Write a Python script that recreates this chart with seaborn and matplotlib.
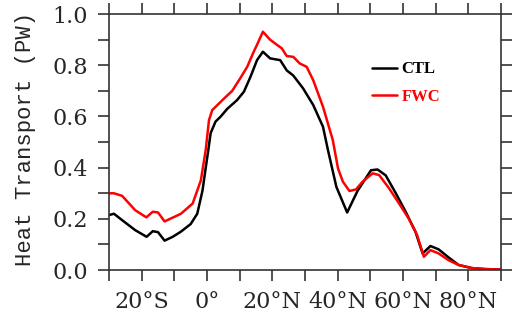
import matplotlib
matplotlib.use("Agg")
import matplotlib.pyplot as plt
import seaborn as sns
import pandas as pd
import numpy as np

lat_ctl = [-30, -28.5, -26, -22, -18.5, -16.6, -15, -13, -10.5, -8, -5, -3, -1.4, -0.4, 0.4, 1.1,
           2.6, 4.2, 6.2, 9.2, 11.3, 13.3, 15.3, 17.1, 19.3, 22.4, 24.4, 26.4, 29.4, 32.5, 35.5,
           37, 39.6, 42.9, 46.1, 50.2, 52.2, 54.7, 57.8, 60.8, 63.8, 66, 68.4, 70.9, 73.9, 77,
           81, 85, 90]
ctl = [0.215, 0.22, 0.195, 0.156, 0.13, 0.152, 0.148, 0.115, 0.13, 0.15, 0.18, 0.22, 0.31, 0.40,
       0.47, 0.535, 0.58, 0.60, 0.63, 0.664, 0.697, 0.755, 0.82, 0.853, 0.827, 0.82, 0.78, 0.76,
       0.71, 0.645, 0.56, 0.47, 0.325, 0.225, 0.31, 0.39, 0.393, 0.37, 0.30, 0.228, 0.15, 0.065,
       0.094, 0.081, 0.05, 0.02, 0.008, 0.004, 0.002]

lat_fwc = [-30, -28.5, -26, -22, -18.6, -16.6, -15, -13, -8, -4.4, -1.9, -0.9, -0.4, 0.6, 1.6,
           3.2, 5.2, 7.7, 10.2, 12.3, 14.3, 15.3, 17.1, 19.3, 21.4, 22.9, 24.4, 26.4, 28.4, 30.5,
           32.5, 35.5, 38.5, 40.1, 41.6, 43.6, 45.6, 47.6, 50.7, 52.7, 55.7, 58.8, 61.8, 64.3,
           66.4, 68.4, 70.9, 73.9, 77, 81, 85, 90]
fwc = [0.30, 0.30, 0.29, 0.234, 0.206, 0.228, 0.225, 0.19, 0.22, 0.26, 0.35, 0.43, 0.47, 0.586,
       0.625, 0.645, 0.67, 0.70, 0.75, 0.794, 0.853, 0.88, 0.931, 0.90, 0.88, 0.866, 0.836, 0.833,
       0.807, 0.794, 0.742, 0.638, 0.508, 0.397, 0.345, 0.309, 0.315, 0.345, 0.378, 0.371, 0.32,
       0.26, 0.2, 0.137, 0.052, 0.078, 0.065, 0.039, 0.02, 0.008, 0.004, 0.002]

xticks = [-20, 0, 20, 40, 60, 80]
xticklabels = ["20°S", "0°", "20°N", "40°N", "60°N", "80°N"]
yticks = [0.0, 0.2, 0.4, 0.6, 0.8, 1.0]
yticklabels = ["0.0", "0.2", "0.4", "0.6", "0.8", "1.0"]

sns.set_style("white")
plt.rcParams['font.family'] = ['DejaVu Serif']

df = pd.concat([
    pd.DataFrame({"lat": lat_ctl, "val": ctl, "run": "CTL"}),
    pd.DataFrame({"lat": lat_fwc, "val": fwc, "run": "FWC"}),
])

fig = plt.figure(figsize=(5.12, 3.2), dpi=100)
ax = fig.add_axes([0.213, 0.156, 0.7655, 0.8])
sns.lineplot(data=df, x="lat", y="val", hue="run", palette={"CTL": "black", "FWC": "red"},
             linewidth=1.8, ax=ax, sort=False, estimator=None)

ax.set_xlim(-30, 90)
ax.set_ylim(0, 1.0)
ax.set_xticks(np.arange(-30, 91, 10), minor=True)
ax.set_xticks(xticks)
ax.set_xticklabels(xticklabels, fontsize=16)
ax.set_yticks(np.arange(0, 1.01, 0.1), minor=True)
ax.set_yticks(yticks)
ax.set_yticklabels(yticklabels, fontsize=16)
ax.tick_params(which="both", direction="out", length=8, width=1.2, color="#333333",
               top=True, right=True, bottom=True, left=True, labeltop=False, labelright=False)
ax.tick_params(axis="x", which="both", pad=7)
ax.tick_params(axis="y", which="both", pad=7)
for s in ax.spines.values():
    s.set_visible(True)
    s.set_color("#333333")
    s.set_linewidth(1.2)
ax.set_xlabel("")
ax.set_ylabel("Heat Transport (PW)", fontsize=16, family="Liberation Mono")
ax.yaxis.set_label_coords(-0.186, 0.512)

leg = ax.legend(loc="upper left", bbox_to_anchor=(0.67, 0.815), frameon=False,
                borderpad=0, borderaxespad=0,
                handlelength=1.5, handletextpad=0.3, labelspacing=0.7,
                prop={"family": "Liberation Serif", "weight": "bold", "size": 12})
for t, c in zip(leg.get_texts(), ["black", "red"]):
    t.set_color(c)

fig.savefig("out.png", dpi=100)
